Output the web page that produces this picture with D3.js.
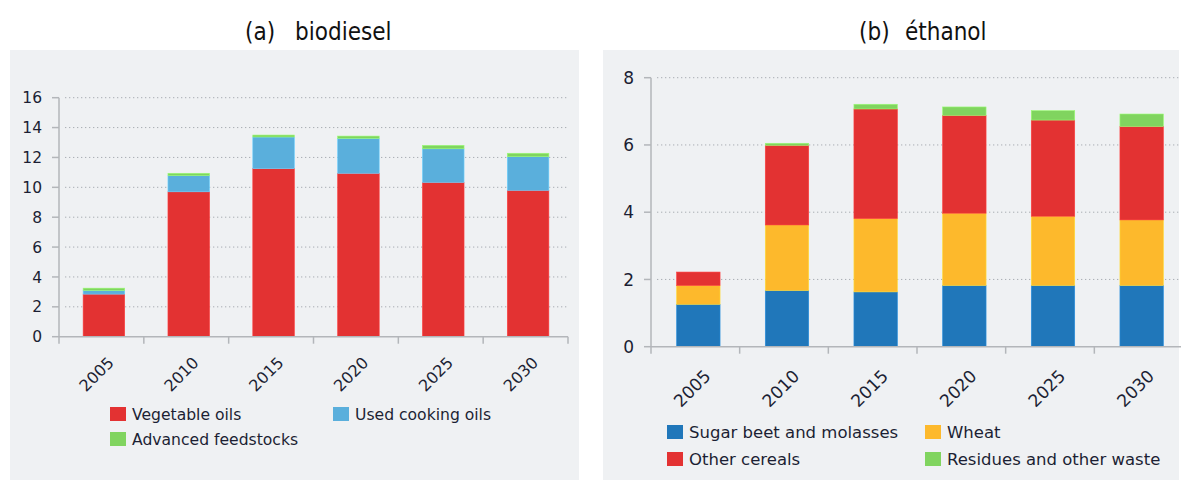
<!DOCTYPE html>
<html><head><meta charset="utf-8">
<script src="https://cdn.jsdelivr.net/npm/d3@7"></script>
<style>
body{margin:0;background:#fff;}
text{font-family:"DejaVu Sans",Verdana,sans-serif;fill:#1c1f33;}
.title{font-family:"Liberation Sans Narrow","DejaVu Sans Condensed","Roboto Condensed",sans-serif;font-stretch:condensed;font-size:24px;fill:#111;}
</style></head>
<body><svg id="c" width="1181" height="481"></svg>
<script>
const years = ["2005","2010","2015","2020","2025","2030"];
// (a) biodiesel
const bioSeries = ["Vegetable oils","Used cooking oils","Advanced feedstocks"];
const bioVeg = [2.85, 9.7, 11.25, 10.94, 10.33, 9.8];
const bioUco = [0.25, 1.08, 2.12, 2.34, 2.25, 2.25];
const bioAdv = [0.15, 0.16, 0.13, 0.15, 0.23, 0.23];
const bioTicks = [0,2,4,6,8,10,12,14,16];
// (b) ethanol
const ethSeries = ["Sugar beet and molasses","Wheat","Other cereals","Residues and other waste"];
const ethSugar = [1.26, 1.67, 1.63, 1.82, 1.82, 1.82];
const ethWheat = [0.56, 1.95, 2.18, 2.15, 2.06, 1.95];
const ethOther = [0.40, 2.37, 3.26, 2.91, 2.86, 2.78];
const ethRes   = [0.00, 0.06, 0.14, 0.25, 0.28, 0.37];
const ethTicks = [0,2,4,6,8];

const svg = d3.select("#c");
const BG = "#eff1f3";

function panel(cfg){
  const g = svg.append("g");
  g.append("rect").attr("x",cfg.bg[0]).attr("y",cfg.bg[1]).attr("width",cfg.bg[2]).attr("height",cfg.bg[3]).attr("fill",BG);
  const x = d3.scaleBand().domain(years).range(cfg.xr).paddingInner(0.51).paddingOuter(0.255);
  const y = d3.scaleLinear().domain([0,cfg.ymax]).range(cfg.yr);
  // grid
  g.selectAll(".grid").data(cfg.ticks.filter(t=>t>0)).join("line")
    .attr("x1",cfg.xr[0]+6).attr("x2",cfg.gridEnd).attr("y1",d=>y(d)).attr("y2",d=>y(d))
    .attr("stroke","#a9adb3").attr("stroke-width",1).attr("stroke-dasharray","1.3,2.7");
  // stacked bars
  const rows = years.map((yr,i)=>{const o={year:yr}; cfg.series.forEach((s,k)=>o[s]=cfg.values[k][i]); return o;});
  const stack = d3.stack().keys(cfg.series)(rows);
  stack.forEach((layer,k)=>{
    g.selectAll(null).data(layer.filter(d=>d[1]-d[0]>0)).join("rect")
      .attr("x",d=>x(d.data.year)+cfg.shift).attr("width",x.bandwidth())
      .attr("y",d=>y(d[1])).attr("height",d=>y(d[0])-y(d[1]))
      .attr("fill",cfg.colors[k]).attr("stroke",d3.color(cfg.colors[k]).brighter(0.5)).attr("stroke-width",0.6);
  });
  // y axis
  g.append("line").attr("x1",cfg.xr[0]).attr("x2",cfg.xr[0]).attr("y1",y(0)).attr("y2",y(cfg.ymax)).attr("stroke","#b3b6ba").attr("stroke-width",1.5);
  g.selectAll(".yt").data(cfg.ticks).join("line")
    .attr("x1",cfg.xr[0]-7).attr("x2",cfg.xr[0]).attr("y1",d=>y(d)).attr("y2",d=>y(d)).attr("stroke","#b3b6ba").attr("stroke-width",1.5);
  g.selectAll(".yl").data(cfg.ticks).join("text")
    .attr("x",cfg.xr[0]-17).attr("y",d=>y(d)).attr("dy","0.36em").attr("text-anchor","end")
    .style("font-size",cfg.fs.y+"px").text(d=>d);
  // x axis
  g.append("line").attr("x1",cfg.xr[0]).attr("x2",cfg.xr[1]).attr("y1",y(0)).attr("y2",y(0)).attr("stroke","#b3b6ba").attr("stroke-width",1.5);
  const bounds = years.map(d=>x(d)-x.step()*0.255).concat([cfg.xr[1]]);
  g.selectAll(".xt").data(bounds).join("line")
    .attr("x1",d=>d).attr("x2",d=>d).attr("y1",y(0)).attr("y2",y(0)+7).attr("stroke","#b3b6ba").attr("stroke-width",1.5);
  g.selectAll(".xl").data(years).join("text")
    .attr("text-anchor","end").style("font-size",cfg.fs.x+"px")
    .attr("transform",d=>`translate(${x(d)+x.bandwidth()/2+cfg.lab[0]},${y(0)+cfg.lab[1]}) rotate(-45)`)
    .text(d=>d);
  // legend
  cfg.series.forEach((s,k)=>{
    const col = k%2, row = Math.floor(k/2);
    const lx = cfg.leg.x[col], ly = cfg.leg.y[row];
    g.append("rect").attr("x",lx).attr("y",ly-7).attr("width",16).attr("height",14).attr("fill",cfg.colors[k]);
    g.append("text").attr("x",lx+22).attr("y",ly).attr("dy","0.36em").style("font-size",cfg.fs.leg+"px").text(s);
  });
  // title
  g.append("text").attr("class","title").attr("x",cfg.title.x[0]).attr("y",40).text(cfg.title.t[0]);
  g.append("text").attr("class","title").attr("x",cfg.title.x[1]).attr("y",40).text(cfg.title.t[1]);
}

panel({
  bg:[10,50,569,430], xr:[59,568], yr:[336.7,97.7], ymax:16, ticks:bioTicks, gridEnd:568, shift:2.5,
  series:bioSeries, values:[bioVeg,bioUco,bioAdv], colors:["#e33232","#5aafdc","#80d45f"],
  fs:{y:15.5,x:16,leg:15.6},
  lab:[13.5,27], leg:{x:[110,333],y:[414,439]}, title:{x:[245,295],t:["(a)","biodiesel"]}
});
panel({
  bg:[603,50,576,430], xr:[651,1183], yr:[346.7,77.7], ymax:8, ticks:ethTicks, gridEnd:1181, shift:3,
  series:[ethSeries[0],ethSeries[1],ethSeries[2],ethSeries[3]], values:[ethSugar,ethWheat,ethOther,ethRes],
  colors:["#2077ba","#fdb92c","#e33232","#80d45f"],
  fs:{y:17,x:17.2,leg:16.5},
  lab:[16.5,30.5], leg:{x:[667,925],y:[432,459]}, title:{x:[859,905],t:["(b)","éthanol"]}
});
</script></body></html>
